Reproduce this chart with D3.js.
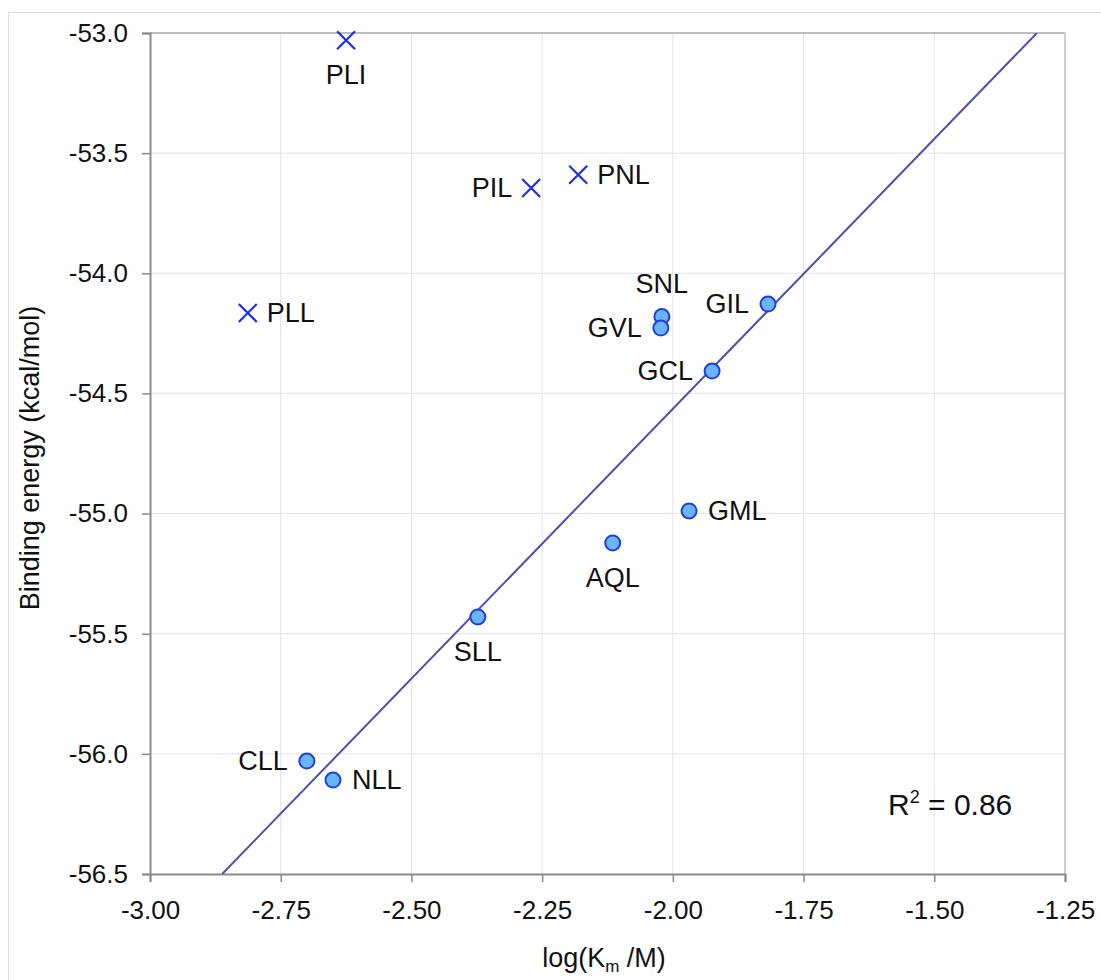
<!DOCTYPE html>
<html>
<head>
<meta charset="utf-8">
<script src="https://cdn.jsdelivr.net/npm/d3@7"></script>
<style>
  body { margin: 0; background: #fff; }
  text { font-family: "Liberation Sans", Arial, sans-serif; fill: #111; }
</style>
</head>
<body>
<svg id="chart" width="1101" height="980"></svg>
<script>
// inhibitors that fall off the trend (crosses)
var crossNames = ["PLI", "PIL", "PNL", "PLL"];
var crossX = [-2.625, -2.271, -2.181, -2.813];
var crossY = [-53.03, -53.645, -53.59, -54.165];

// peptides used for the fit (circles)
var dotNames = ["SNL", "GVL", "GIL", "GCL", "GML", "AQL", "SLL", "CLL", "NLL"];
var dotX = [-2.021, -2.023, -1.818, -1.925, -1.969, -2.115, -2.373, -2.700, -2.650];
var dotY = [-54.18, -54.228, -54.128, -54.407, -54.989, -55.122, -55.430, -56.030, -56.109];

// where each label sits relative to its point
var crossPos = ["below", "left", "right", "right"];
var dotPos = ["above", "left", "left", "left", "right", "below", "below", "left", "right"];

// fitted line
var fitSlope = 2.246;
var fitIntercept = -50.072;
var rSquared = "0.86";

var xTicks = [-3.00, -2.75, -2.50, -2.25, -2.00, -1.75, -1.50, -1.25];
var yTicks = [-53.0, -53.5, -54.0, -54.5, -55.0, -55.5, -56.0, -56.5];

var svg = d3.select("#chart");
var pLeft = 150, pRight = 1065, pTop = 33, pBottom = 874;

var x = d3.scaleLinear().domain([-3.00, -1.25]).range([pLeft, pRight]);
var y = d3.scaleLinear().domain([-56.5, -53.0]).range([pBottom, pTop]);

// outer frame
svg.append("rect").attr("x", 8.5).attr("y", 12.5).attr("width", 1110).attr("height", 1000)
  .attr("fill", "none").attr("stroke", "#e0e0e0");

// grid
svg.append("g").selectAll("line").data(xTicks.slice(1)).enter().append("line")
  .attr("x1", d => x(d)).attr("x2", d => x(d)).attr("y1", pTop).attr("y2", pBottom)
  .attr("stroke", "#e3e3e3");
svg.append("g").selectAll("line").data(yTicks.slice(0, -1)).enter().append("line")
  .attr("y1", d => y(d)).attr("y2", d => y(d)).attr("x1", pLeft).attr("x2", pRight)
  .attr("stroke", "#e3e3e3");

// plot frame top/right
svg.append("line").attr("x1", pLeft).attr("x2", pRight).attr("y1", pTop).attr("y2", pTop)
  .attr("stroke", "#bdbdbd").attr("stroke-width", 2);
svg.append("line").attr("x1", pRight).attr("x2", pRight).attr("y1", pTop).attr("y2", pBottom)
  .attr("stroke", "#cfcfcf").attr("stroke-width", 2);

// axes (hyphen minus like the original)
function fmt(p) {
  var f = d3.format("." + p + "f");
  return d => f(d).replace("\u2212", "-");
}
var xAxis = d3.axisBottom(x).tickValues(xTicks).tickFormat(fmt(2)).tickSize(8).tickPadding(19);
var yAxis = d3.axisLeft(y).tickValues(yTicks).tickFormat(fmt(1)).tickSize(8).tickPadding(14);

var gx = svg.append("g").attr("transform", "translate(0," + pBottom + ")").call(xAxis);
var gy = svg.append("g").attr("transform", "translate(" + pLeft + ",0)").call(yAxis);
[gx, gy].forEach(function (g) {
  g.attr("font-size", 26).attr("font-family", "Liberation Sans, Arial, sans-serif");
  g.select(".domain").attr("stroke", "#8a8a8a").attr("stroke-width", 2);
  g.selectAll(".tick line").attr("stroke", "#8a8a8a").attr("stroke-width", 1.5);
  g.selectAll(".tick text").attr("fill", "#111");
});

// clip for trend line
svg.append("clipPath").attr("id", "plotclip").append("rect")
  .attr("x", pLeft).attr("y", pTop).attr("width", pRight - pLeft).attr("height", pBottom - pTop);

var fitX = [(-56.5 - fitIntercept) / fitSlope, (-53.0 - fitIntercept) / fitSlope];
svg.append("path")
  .datum(fitX)
  .attr("clip-path", "url(#plotclip)")
  .attr("d", d3.line().x(d => x(d)).y(d => y(fitSlope * d + fitIntercept)))
  .attr("stroke", "#4b4fae").attr("stroke-width", 2).attr("fill", "none");

var crosses = crossNames.map((n, i) => ({ name: n, x: crossX[i], y: crossY[i], pos: crossPos[i] }));
var dots = dotNames.map((n, i) => ({ name: n, x: dotX[i], y: dotY[i], pos: dotPos[i] }));

var cs = 9;
var cg = svg.append("g").selectAll("g").data(crosses).enter().append("g")
  .attr("transform", d => "translate(" + x(d.x) + "," + y(d.y) + ")");
cg.append("path").attr("d", "M" + -cs + "," + -cs + "L" + cs + "," + cs + "M" + -cs + "," + cs + "L" + cs + "," + -cs)
  .attr("stroke", "#1f2fe6").attr("stroke-width", 2.2);

svg.append("g").selectAll("circle").data(dots).enter().append("circle")
  .attr("cx", d => x(d.x)).attr("cy", d => y(d.y)).attr("r", 7.5)
  .attr("fill", "#6ab4fa").attr("stroke", "#1f3fe0").attr("stroke-width", 2);

function labelAttrs(sel, gap) {
  sel.attr("x", function (d) {
      var px = x(d.x);
      if (d.pos == "left") return px - gap;
      if (d.pos == "right") return px + gap;
      return px;
    })
    .attr("y", function (d) {
      var py = y(d.y);
      if (d.pos == "below") return py + 44;
      if (d.pos == "above") return py - 24;
      return py + 9;
    })
    .attr("text-anchor", function (d) {
      if (d.pos == "left") return "end";
      if (d.pos == "right") return "start";
      return "middle";
    })
    .attr("font-size", 27)
    .text(d => d.name);
}

svg.append("g").selectAll("text").data(crosses).enter().append("text").call(labelAttrs, 19);
svg.append("g").selectAll("text").data(dots).enter().append("text").call(labelAttrs, 19);

// R squared
var rt = svg.append("text").attr("x", 888).attr("y", 815).attr("font-size", 30);
rt.append("tspan").text("R");
rt.append("tspan").attr("font-size", 18).attr("dy", -12).text("2");
rt.append("tspan").attr("dy", 12).text(" = " + rSquared);

// axis titles
svg.append("text").attr("transform", "translate(39,458) rotate(-90)")
  .attr("text-anchor", "middle").attr("font-size", 27).text("Binding energy (kcal/mol)");

var xt = svg.append("text").attr("x", 604).attr("y", 967)
  .attr("text-anchor", "middle").attr("font-size", 27);
xt.append("tspan").text("log(K");
xt.append("tspan").attr("font-size", 17).attr("dy", 5).text("m");
xt.append("tspan").attr("dy", -5).text(" /M)");
</script>
</body>
</html>
